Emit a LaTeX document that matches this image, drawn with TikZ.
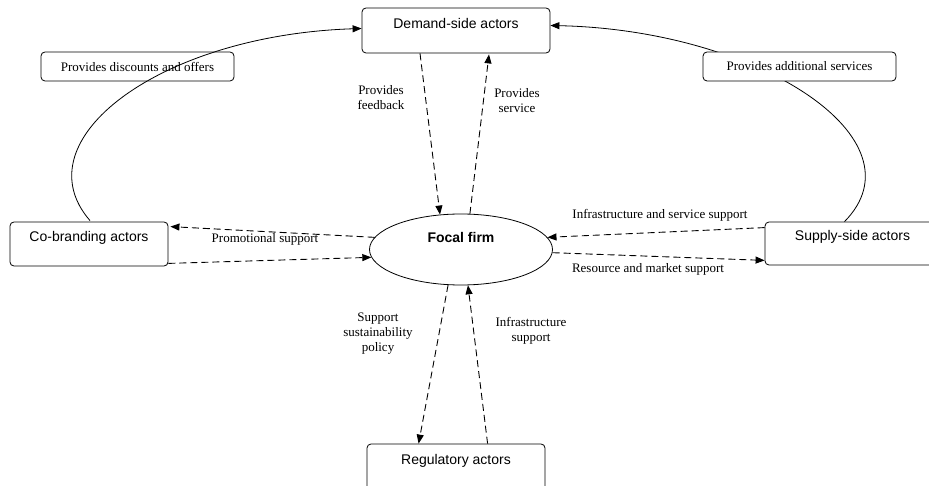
\documentclass[tikz,border=0pt]{standalone}
\usepackage{fontspec}
\setmainfont{Liberation Serif}
\setsansfont{Liberation Sans}
\usetikzlibrary{arrows.meta,calc,shapes.geometric}
\tikzset{
  box/.style={draw, rounded corners=4pt, line width=0.8pt, inner sep=0pt},
  boxtext/.style={inner sep=0pt, font=\sffamily\fontsize{14}{16}\selectfont},
  lbl/.style={inner sep=0pt, align=center, font=\rmfamily\fontsize{13}{15}\selectfont},
  dasharrow/.style={line width=0.9pt, dash pattern=on 7pt off 4pt, -{Triangle[length=9pt,width=7pt]}},
  solidarrow/.style={line width=0.8pt, -{Triangle[length=9pt,width=7pt]}}
}
\begin{document}
\begin{tikzpicture}[x=1pt,y=-1pt]
\useasboundingbox (0,0) rectangle (929,486);
% boxes
\node[box, minimum width=188pt, minimum height=45pt] (demand) at (456,30.5) {};
\node[boxtext] (demandtext) at ($(demand.north)+(0,16)$) {Demand-side actors};
\node[box, minimum width=158pt, minimum height=44pt] (co) at (89,244) {};
\node[boxtext] (cotext) at ($(co.north)+(0,16)$) {Co-branding actors};
\node[box, minimum width=175pt, minimum height=43pt] (supply) at (852.5,243.5) {};
\node[boxtext] (supplytext) at ($(supply.north)+(0,15)$) {Supply-side actors};
\node[box, minimum width=178pt, minimum height=48pt] (reg) at (456,468) {};
\node[boxtext] (regtext) at ($(reg.north)+(0,17)$) {Regulatory actors};
\node[draw, ellipse, line width=0.8pt, minimum width=183pt, minimum height=71pt, inner sep=0pt] (focal) at (461,249.5) {};
\node[inner sep=0pt, font=\sffamily\bfseries\fontsize{14}{16}\selectfont] (focaltext) at (461,237) {Focal firm};
% curved connectors
\draw[solidarrow] ($(supply.north)+(-8,0)$) .. controls (925,140) and (760,30) .. ($(demand.east)+(0,-5)$);
\node[box, fill=white, minimum width=193pt, minimum height=29pt, font=\rmfamily\fontsize{13}{15}\selectfont] (additional) at (799.5,66.5) {Provides additional services};
\node[box, minimum width=193pt, minimum height=29pt, font=\rmfamily\fontsize{13}{15}\selectfont] (discounts) at (137.5,66.5) {Provides discounts and offers};
\draw[solidarrow] ($(co.north)+(1,-1)$) .. controls (20,140) and (160,35) .. ($(demand.west)+(0,-2)$);
% dashed connectors
\draw[dasharrow] ($(demand.south)+(-36,0)$) -- (focal.121);
\draw[dasharrow] (focal.76) -- ($(demand.south)+(33,1)$);
\draw[dasharrow] (focal.172) -- ($(co.north east)+(2,5)$);
\draw[dasharrow] ($(co.south east)+(0,-3)$) -- (focal.185);
\draw[dasharrow] ($(supply.north west)+(0,6)$) -- (focal.8);
\draw[dasharrow] (focal.358) -- ($(supply.south west)+(0,-5)$);
\draw[dasharrow] (focal.250) -- ($(reg.north west)+(52,0)$);
\draw[dasharrow] ($(reg.north west)+(121,0)$) -- (focal.281);
% labels
\node[lbl] (lfeedback) at (381,97.5) {Provides\\feedback};
\node[lbl] (lservice) at (517,100.5) {Provides\\service};
\node[lbl] (lpromo) at (265,239) {Promotional support};
\node[lbl] (linfraserv) at (660,215) {Infrastructure and service support};
\node[lbl] (lresource) at (648,269) {Resource and market support};
\node[lbl] (lsustain) at (378,334) {Support\\sustainability\\policy};
\node[lbl] (linfra) at (531,331) {Infrastructure\\support};
\end{tikzpicture}
\end{document}
